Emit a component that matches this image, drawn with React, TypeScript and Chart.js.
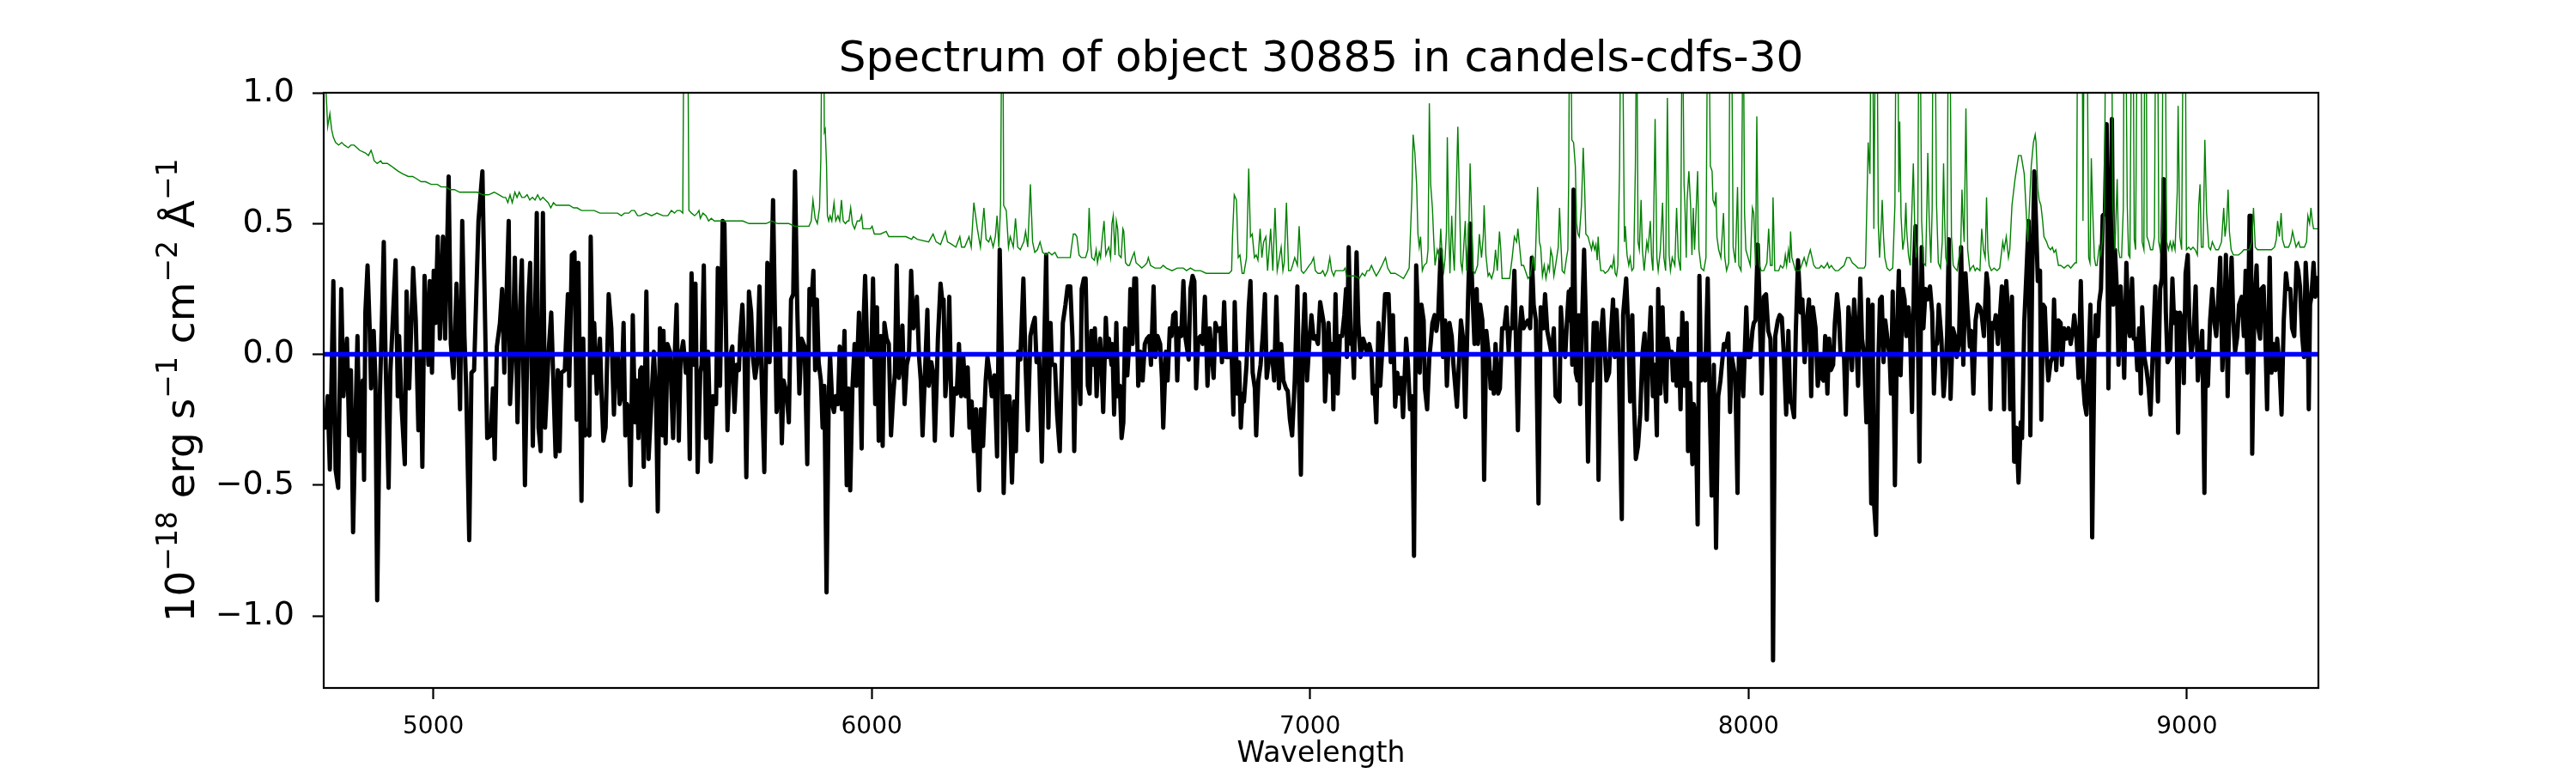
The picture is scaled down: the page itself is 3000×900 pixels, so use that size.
import React, { useEffect, useRef } from "react";
import { Chart, registerables } from "chart.js";

Chart.register(...registerables);

const TITLE = "Spectrum of object 30885 in candels-cdfs-30";
const X_LABEL = "Wavelength";
const Y_LABEL_PARTS: { t: string; sup: boolean }[] = [
  { t: "10", sup: false },
  { t: "\u221218", sup: true },
  { t: " erg s", sup: false },
  { t: "\u22121", sup: true },
  { t: " cm", sup: false },
  { t: "\u22122", sup: true },
  { t: " \u00c5", sup: false },
  { t: "\u22121", sup: true },
];

const X_MIN = 4750;
const X_MAX = 9300;
const Y_MIN = -1.275;
const Y_MAX = 1.0;
const X_TICKS = [5000, 6000, 7000, 8000, 9000];
const Y_TICKS = [-1.0, -0.5, 0.0, 0.5, 1.0];

const ZERO_LINE: [number, number][] = [[4750, 0], [9300, 0]];

// observed flux, [wavelength, value]
const FLUX: [number, number][] = [
  [4750,-0.25],[4754,-0.28],[4759,-0.16],[4764,-0.44],[4772,0.28],[4777,-0.44],[4783,-0.51],[4790,0.25],[4795,-0.16],[4803,0.06],
  [4808,-0.31],[4812,-0.06],[4817,-0.68],[4823,-0.21],[4827,0.07],[4832,-0.37],[4839,-0.10],[4842,-0.48],[4845,0.16],[4850,0.34],
  [4855,0.09],[4858,-0.13],[4864,0.09],[4868,-0.10],[4872,-0.94],[4878,-0.16],[4883,0.15],[4887,0.43],[4891,-0.01],[4898,-0.51],
  [4902,-0.07],[4914,0.36],[4919,-0.16],[4922,0.07],[4928,-0.21],[4935,-0.42],[4939,0.24],[4945,-0.13],[4954,0.33],[4960,0.13],
  [4966,-0.29],[4971,0.01],[4975,-0.43],[4980,0.30],[4989,-0.04],[4992,0.28],[4997,-0.07],[5001,0.32],[5005,0.12],[5010,0.45],
  [5015,0.06],[5022,0.45],[5027,0.06],[5035,0.68],[5040,0.04],[5046,-0.09],[5053,0.27],[5061,-0.21],[5066,0.51],[5071,0.07],
  [5075,-0.13],[5082,-0.71],[5087,-0.07],[5093,-0.06],[5103,0.51],[5112,0.70],[5116,0.32],[5123,-0.32],[5131,-0.31],[5136,-0.13],
  [5140,-0.40],[5145,0.03],[5152,0.12],[5157,0.25],[5162,-0.07],[5172,0.51],[5175,-0.19],[5181,0.01],[5186,0.37],[5192,-0.26],
  [5198,0.18],[5202,0.36],[5209,-0.50],[5216,0.18],[5221,0.35],[5227,-0.35],[5236,0.54],[5240,-0.28],[5245,-0.37],[5250,0.54],
  [5255,-0.28],[5263,0.01],[5269,0.16],[5279,-0.39],[5284,-0.06],[5288,-0.37],[5292,-0.07],[5300,-0.06],[5307,0.23],[5310,-0.12],
  [5316,0.38],[5322,0.39],
  [5327,-0.25],[5331,0.35],[5338,-0.56],[5342,0.06],[5346,-0.31],[5351,-0.29],[5356,-0.31],[5359,0.45],[5364,-0.07],[5367,0.12],
  [5373,-0.15],[5380,0.06],[5384,-0.16],[5388,-0.33],[5393,-0.28],[5400,0.23],[5406,0.10],[5412,-0.23],[5416,-0.01],[5421,0.00],
  [5425,-0.19],[5429,-0.16],[5434,0.12],[5438,-0.31],[5442,-0.19],[5446,-0.22],[5450,-0.50],[5455,0.15],[5460,-0.26],[5464,-0.10],
  [5468,-0.32],[5472,-0.06],[5475,-0.05],[5480,-0.43],[5486,0.24],[5491,-0.40],[5498,-0.16],[5503,0.01],[5508,-0.16],[5512,-0.60],
  [5517,0.10],[5523,-0.31],[5525,0.09],[5530,-0.34],[5534,0.04],[5540,0.01],[5547,-0.32],[5551,0.01],[5555,0.19],[5560,-0.33],
  [5564,-0.01],[5570,0.05],[5576,-0.07],[5581,-0.01],[5585,-0.40],[5589,0.31],[5594,-0.04],[5598,0.27],[5603,-0.45],[5609,-0.07],
  [5612,-0.04],[5617,0.34],[5622,-0.32],[5627,0.01],[5633,-0.41],[5638,-0.16],[5645,-0.19],[5649,0.33],[5654,-0.12],[5660,0.51],
  [5664,0.50],[5671,-0.29],[5677,-0.01],[5682,0.03],[5687,-0.22],[5692,-0.04],[5697,-0.06],[5700,0.07],[5705,0.19],[5710,-0.01],
  [5714,-0.47],[5720,0.24],[5725,0.16],[5729,-0.01],[5734,-0.09],[5739,-0.03],[5744,0.26],[5749,-0.09],[5755,-0.45],[5762,0.35],
  [5767,-0.03],[5775,0.59],[5783,-0.22],[5786,-0.16],[5790,0.10],[5795,-0.34],[5799,-0.10],[5806,-0.15],[5811,-0.26],[5816,0.21],
  [5821,0.23],[5825,0.70],[5830,0.19],[5835,-0.15],[5840,0.06],[5847,0.03],[5853,-0.42],[5858,0.25],[5862,0.19],[5867,0.32],
  [5871,-0.06],[5875,0.21],[5879,-0.03],[5884,-0.10],
  [5888,-0.28],[5892,-0.12],[5897,-0.91],[5902,-0.16],[5905,0.00],[5910,-0.19],[5914,-0.22],[5918,-0.16],[5923,-0.19],[5927,0.03],
  [5932,-0.21],[5938,0.09],[5943,-0.50],[5947,-0.13],[5951,-0.52],[5956,-0.13],[5961,0.04],[5965,-0.12],[5971,0.16],[5977,-0.36],
  [5980,0.06],[5985,0.30],[5990,0.01],[5995,0.01],[5999,-0.01],[6003,0.29],[6008,-0.19],[6012,0.18],[6016,-0.33],[6021,0.07],
  [6025,-0.35],[6029,0.12],[6034,0.06],[6039,0.04],[6044,-0.31],[6049,-0.16],[6053,-0.07],[6057,0.34],[6062,-0.09],[6067,-0.03],
  [6070,0.11],[6075,-0.19],[6080,-0.04],[6085,0.00],[6090,0.32],[6095,0.10],[6098,0.12],[6103,0.22],[6108,-0.01],[6112,-0.10],
  [6116,-0.31],[6121,-0.09],[6127,0.17],[6130,-0.12],[6136,-0.03],[6140,-0.07],[6144,-0.33],[6148,-0.12],[6151,0.06],[6157,0.27],
  [6162,0.19],[6164,0.21],[6168,-0.16],[6173,-0.04],[6177,0.22],[6183,-0.31],[6188,-0.13],[6194,-0.15],[6199,0.04],[6204,-0.16],
  [6209,-0.01],[6214,-0.16],[6219,-0.05],[6223,-0.28],[6228,-0.18],[6233,-0.37],[6238,-0.21],[6245,-0.52],[6249,-0.21],[6254,-0.35],
  [6260,-0.10],[6264,-0.01],[6269,-0.07],[6274,-0.16],[6280,-0.08],[6286,-0.39],[6292,0.40],[6297,-0.03],[6301,-0.53],[6307,-0.16],
  [6311,-0.25],[6314,-0.16],[6320,-0.49],[6325,-0.18],[6329,-0.37],[6334,0.01],[6339,-0.02],[6346,0.29],[6351,-0.04],[6356,-0.29],
  [6362,0.07],[6367,0.11],[6372,0.14],[6376,-0.03],[6382,-0.01],[6388,-0.41],[6393,-0.01],[6398,0.38],[6403,-0.28],[6408,0.12],
  [6411,-0.04],[6418,-0.04],[6423,-0.23],[6429,-0.37],[6436,0.12],[6442,0.19],[6447,0.26],
  [6453,0.26],[6458,0.06],[6462,-0.37],[6466,0.00],[6471,0.01],[6476,-0.19],[6479,0.25],[6484,0.29],[6488,0.29],[6493,-0.12],
  [6497,-0.15],[6501,0.09],[6506,-0.04],[6509,0.10],[6513,-0.16],[6517,-0.01],[6521,0.06],[6524,-0.03],[6528,-0.22],[6534,0.14],
  [6538,-0.01],[6541,0.06],[6547,-0.04],[6549,0.04],[6553,-0.23],[6558,0.12],[6562,-0.16],[6566,-0.12],[6570,-0.32],[6574,-0.26],
  [6578,0.10],[6583,-0.08],[6587,0.03],[6590,0.25],[6595,0.04],[6599,0.29],[6603,0.29],[6608,-0.12],[6613,0.01],[6618,-0.10],
  [6623,0.04],[6628,0.06],[6633,0.07],[6637,-0.04],[6643,0.26],[6647,-0.01],[6652,0.07],[6658,0.04],[6662,-0.09],[6665,-0.28],
  [6671,0.01],[6675,-0.10],[6680,0.10],[6684,0.07],[6688,0.15],[6693,0.16],[6697,-0.10],[6701,0.10],[6706,0.07],[6711,0.28],
  [6716,0.06],[6723,-0.02],[6727,0.25],[6732,0.30],[6736,0.28],[6740,-0.13],[6745,0.06],[6750,0.07],[6755,0.04],[6760,0.22],
  [6766,-0.12],[6771,0.10],[6776,-0.01],[6780,-0.09],[6784,0.12],[6789,0.09],[6795,0.10],[6799,-0.03],[6804,0.20],[6808,-0.01],
  [6817,-0.01],[6821,0.00],[6825,-0.23],[6828,0.20],[6834,-0.15],[6838,-0.03],[6842,-0.28],[6846,-0.15],[6849,-0.18],[6855,-0.04],
  [6860,0.18],[6864,0.28],[6869,-0.07],[6874,-0.13],[6877,-0.31],[6882,-0.10],[6887,-0.04],[6892,0.07],[6897,0.23],[6901,-0.09],
  [6907,-0.01],[6913,0.01],[6918,-0.10],[6923,0.22],[6929,-0.13],[6934,0.04],[6939,-0.10],[6945,-0.13],[6949,-0.14],[6954,-0.25],
  [6959,-0.31],[6965,-0.10],[6971,0.26],[6975,-0.15],[6979,-0.46],[6984,0.07],[6988,0.23],[6993,-0.10],[6998,0.04],[7003,0.15],
  [7008,0.06],[7012,0.07],[7018,0.04],[7023,0.20],
  [7031,0.12],[7034,-0.18],[7042,0.12],[7047,-0.07],[7050,0.04],[7053,-0.21],[7058,0.23],[7063,-0.15],[7068,0.07],[7073,0.07],
  [7078,0.15],[7082,0.25],[7084,-0.01],[7088,0.41],[7093,0.04],[7096,0.07],[7100,-0.09],[7106,0.39],[7110,0.12],[7115,-0.01],
  [7121,0.06],[7125,0.04],[7130,0.00],[7135,0.04],[7140,0.00],[7143,-0.15],[7147,-0.12],[7151,-0.26],[7156,0.12],[7160,-0.12],
  [7164,0.00],[7171,0.23],[7179,0.23],[7184,-0.03],[7189,0.15],[7194,-0.20],[7199,-0.07],[7204,-0.15],[7208,-0.09],[7212,-0.24],
  [7219,0.06],[7223,-0.03],[7228,-0.21],[7233,-0.16],[7237,-0.77],[7242,0.34],[7246,0.16],[7250,-0.07],[7254,0.19],[7259,0.13],
  [7262,-0.13],[7267,-0.21],[7272,-0.01],[7275,0.04],[7279,0.12],[7284,0.15],[7288,0.09],[7292,0.14],[7298,0.40],[7303,-0.01],
  [7308,0.13],[7312,-0.12],[7318,0.12],[7323,0.07],[7327,-0.04],[7335,-0.20],[7344,0.13],[7349,0.06],[7354,-0.24],[7360,0.19],
  [7365,0.50],[7370,0.25],[7375,0.04],[7380,0.25],[7383,0.04],[7388,0.19],[7393,0.13],[7397,-0.48],[7402,0.09],[7408,-0.01],
  [7412,-0.13],[7416,-0.07],[7419,-0.15],[7423,0.04],[7429,-0.15],[7433,-0.13],[7438,0.10],[7443,0.10],[7448,0.18],[7453,0.01],
  [7456,0.10],[7461,0.10],[7466,0.32],[7474,-0.29],[7479,0.10],[7482,0.18],[7487,0.10],[7493,0.12],[7497,0.13],[7502,0.10],
  [7506,0.37],[7510,0.19],[7515,0.13],[7521,-0.57],[7526,0.18],[7532,0.10],[7536,0.23],[7541,0.09],[7551,0.00],[7556,0.10],
  [7560,-0.16],[7569,-0.18],[7572,0.18],[7577,0.04],[7582,-0.01],[7586,0.13],[7590,0.24],
  [7592,0.13],[7595,0.25],[7598,-0.04],[7601,0.63],[7606,-0.07],[7610,-0.10],[7613,0.15],[7616,-0.19],[7621,0.16],[7625,0.40],
  [7629,0.13],[7634,-0.41],[7639,-0.01],[7643,-0.10],[7647,0.12],[7654,0.12],[7658,-0.48],[7663,0.06],[7668,0.17],[7673,-0.01],
  [7676,-0.10],[7682,-0.07],[7686,0.07],[7691,0.21],[7695,-0.01],[7699,0.17],[7704,-0.01],[7706,-0.22],[7711,-0.63],[7714,0.15],
  [7721,0.29],[7725,0.13],[7730,-0.18],[7735,0.15],[7739,-0.19],[7743,-0.40],[7748,-0.35],[7753,-0.23],[7758,0.00],[7763,0.08],
  [7768,-0.25],[7773,0.04],[7777,0.18],[7782,-0.16],[7786,-0.04],[7791,-0.31],[7794,0.25],[7799,-0.15],[7804,0.18],[7808,-0.06],
  [7812,-0.18],[7815,0.06],[7820,-0.01],[7825,0.01],[7828,-0.10],[7833,-0.01],[7836,-0.12],[7841,0.06],[7845,-0.21],[7849,0.16],
  [7854,-0.12],[7859,0.12],[7862,-0.37],[7867,-0.11],[7872,-0.42],[7875,-0.19],[7880,-0.25],[7884,-0.65],[7888,0.30],[7892,-0.10],
  [7897,0.00],[7901,-0.10],[7907,0.29],[7911,-0.13],[7916,-0.54],[7921,-0.04],[7926,-0.74],[7931,-0.16],[7936,-0.10],[7941,-0.01],
  [7944,0.04],[7949,0.03],[7954,0.08],[7958,-0.22],[7962,-0.01],[7970,-0.09],[7975,-0.53],[7978,-0.01],[7983,-0.01],[7988,-0.16],
  [7995,0.18],[7999,-0.01],[8004,-0.01],[8009,0.09],[8012,0.12],[8016,0.13],[8021,0.42],[8025,0.21],[8030,-0.15],[8035,0.22],
  [8040,0.23],[8045,0.09],[8050,0.06],[8053,-0.10],[8056,-1.17],[8061,0.07],[8067,0.13],[8071,0.15],[8076,0.14],[8081,-0.01],
  [8086,-0.23],[8091,0.09],[8095,-0.18],[8099,-0.19],[8104,-0.24],[8108,0.09],[8113,0.36],[8119,0.16],[8123,0.21],[8128,-0.03],
  [8133,0.13],[8138,0.21],[8143,-0.16],[8147,0.18],[8153,0.10],[8158,-0.12],
  [8164,-0.01],[8167,-0.09],[8171,-0.10],[8175,0.07],[8180,-0.15],[8184,0.06],[8188,-0.06],[8193,-0.04],[8197,0.12],[8202,0.23],
  [8206,0.16],[8210,0.00],[8215,0.00],[8218,-0.01],[8222,-0.23],[8228,0.18],[8232,0.10],[8236,-0.06],[8241,0.21],[8245,0.10],
  [8250,-0.12],[8255,0.29],[8259,0.06],[8264,-0.01],[8269,-0.26],[8273,0.21],[8277,-0.23],[8280,-0.57],[8283,0.19],[8286,-0.56],
  [8291,-0.69],[8296,-0.04],[8300,0.21],[8304,0.22],[8308,-0.03],[8312,0.13],[8317,0.06],[8322,-0.01],[8325,-0.15],[8329,0.24],
  [8334,-0.50],[8339,0.10],[8343,0.32],[8347,-0.08],[8352,0.25],[8356,0.21],[8360,0.07],[8365,0.18],[8368,0.12],[8373,-0.22],
  [8378,0.35],[8381,0.49],[8386,0.13],[8390,-0.41],[8395,0.41],[8399,0.10],[8404,0.25],[8408,0.21],[8414,0.26],[8419,0.16],
  [8423,-0.15],[8427,0.04],[8430,0.04],[8434,0.19],[8440,0.06],[8445,-0.16],[8449,-0.07],[8453,0.07],[8457,0.44],[8461,-0.17],
  [8466,0.10],[8471,0.07],[8475,-0.01],[8480,0.04],[8485,0.41],[8490,-0.04],[8495,0.31],[8500,0.16],[8505,0.03],[8508,0.09],
  [8513,-0.15],[8518,0.13],[8523,0.19],[8528,0.18],[8532,0.15],[8537,0.07],[8543,0.31],[8547,0.25],[8552,-0.21],[8556,0.12],
  [8560,0.10],[8564,0.15],[8569,0.04],[8573,0.13],[8578,0.26],[8583,-0.21],[8588,0.28],[8593,0.13],[8597,-0.21],[8601,0.22],
  [8606,-0.41],[8611,-0.28],[8616,-0.49],[8621,-0.26],[8624,-0.32],[8629,0.12],[8634,0.31],[8639,0.51],[8643,-0.31],[8647,0.28],
  [8652,0.70],[8656,0.50],[8660,0.28],[8665,0.32],[8668,-0.25],[8672,0.19],[8676,0.18],[8680,0.00],[8684,-0.10],[8689,-0.03],
  [8694,-0.01],[8697,0.21],[8702,-0.06],[8707,0.13],[8712,0.12],[8715,-0.04],[8720,0.10],[8725,0.06],
  [8730,0.10],[8735,0.04],[8740,0.09],[8743,0.15],[8748,0.07],[8753,-0.09],[8758,0.28],[8763,-0.10],[8767,-0.19],[8771,-0.23],
  [8776,-0.01],[8780,0.19],[8784,-0.70],[8789,-0.01],[8792,0.15],[8797,0.07],[8800,0.20],[8804,0.25],[8808,0.53],[8813,0.54],
  [8817,0.88],[8821,-0.13],[8825,0.40],[8829,0.90],[8832,0.19],[8836,0.40],[8841,0.22],[8844,-0.04],[8849,0.26],[8854,0.07],
  [8857,-0.09],[8862,0.35],[8867,0.10],[8870,0.07],[8875,0.29],[8879,0.06],[8883,0.06],[8887,-0.06],[8891,0.10],[8895,-0.15],
  [8898,0.18],[8903,-0.01],[8908,-0.06],[8913,-0.13],[8917,-0.23],[8922,0.00],[8928,0.26],[8930,0.07],[8934,-0.18],[8939,0.25],
  [8943,0.29],[8947,0.67],[8952,0.16],[8956,-0.03],[8962,-0.01],[8967,0.29],[8971,0.12],[8976,0.16],[8980,-0.30],[8984,0.16],
  [8989,0.13],[8993,-0.11],[8997,0.31],[9002,0.38],[9006,0.10],[9010,-0.01],[9015,0.07],[9020,0.26],[9025,-0.10],[9030,0.00],
  [9035,0.09],[9040,-0.53],[9043,0.01],[9048,-0.12],[9053,0.13],[9058,0.25],[9063,0.12],[9067,0.07],[9071,0.19],[9076,0.37],
  [9081,-0.06],[9086,0.16],[9089,0.38],[9093,-0.16],[9097,0.19],[9102,0.37],[9106,0.13],[9110,0.01],[9115,0.07],[9119,0.19],
  [9125,0.22],[9130,0.07],[9134,0.32],[9138,-0.07],[9143,0.53],[9146,0.53],[9149,-0.38],[9154,0.19],[9159,0.34],[9163,0.10],
  [9167,0.06],[9170,0.25],[9175,0.26],[9179,0.07],[9183,-0.21],[9189,0.37],[9193,-0.07],[9198,0.04],[9202,-0.06],[9206,0.06],
  [9211,-0.04],[9216,-0.23],[9221,0.13],[9226,0.31],[9230,0.25],[9236,0.25],[9240,0.10],[9245,0.07],[9250,0.35],[9254,0.32],
  [9258,0.26],[9263,0.07],[9267,-0.01],[9271,0.35],[9275,0.22],[9278,-0.21],[9281,0.19],[9284,0.22],[9289,0.35],[9293,0.22],
  [9298,0.30],
];

// noise / sky spectrum, [wavelength, value]; values above 1.0 run off the top of the axes
const NOISE: [number, number][] = [
  [4750,1.30],[4751,1.25],[4755,1.02],[4759,0.87],[4762,0.90],[4764,0.92],[4768,0.86],[4772,0.83],[4777,0.81],[4784,0.80],
  [4791,0.81],[4797,0.80],[4806,0.79],[4812,0.80],[4819,0.80],[4826,0.79],[4832,0.78],[4845,0.77],[4852,0.76],[4858,0.78],
  [4862,0.76],[4865,0.74],[4872,0.73],[4880,0.74],[4884,0.73],[4895,0.73],[4904,0.72],[4912,0.71],[4920,0.70],[4930,0.69],
  [4943,0.68],[4953,0.68],[4963,0.67],[4972,0.66],[4982,0.66],[4995,0.65],[5009,0.65],[5018,0.64],[5028,0.64],[5038,0.63],
  [5048,0.63],[5060,0.62],[5074,0.62],[5088,0.62],[5100,0.62],[5113,0.61],[5126,0.61],[5139,0.62],[5150,0.61],[5160,0.60],
  [5165,0.60],[5170,0.58],[5175,0.61],[5180,0.58],[5186,0.62],[5191,0.60],[5196,0.62],[5202,0.60],[5208,0.60],[5214,0.61],
  [5220,0.59],[5226,0.60],[5232,0.59],[5238,0.61],[5244,0.59],[5250,0.60],[5256,0.59],[5262,0.58],[5268,0.56],[5274,0.58],
  [5280,0.57],[5290,0.57],[5300,0.57],[5310,0.57],
  [5320,0.56],[5328,0.56],[5338,0.55],[5348,0.55],[5358,0.55],[5367,0.55],[5380,0.54],[5393,0.54],[5405,0.54],[5420,0.54],
  [5429,0.53],[5436,0.54],[5446,0.54],[5452,0.55],[5459,0.55],[5466,0.53],[5472,0.53],[5485,0.54],[5498,0.53],[5510,0.54],
  [5524,0.53],[5535,0.53],[5543,0.55],[5550,0.54],[5556,0.55],[5563,0.55],[5569,0.54],[5572,1.40],[5576,2.00],[5580,1.40],
  [5583,0.55],[5589,0.54],[5596,0.53],[5602,0.54],[5606,0.55],[5609,0.52],[5615,0.54],[5622,0.53],[5628,0.51],[5634,0.52],
  [5641,0.51],[5654,0.51],[5667,0.51],[5680,0.51],[5693,0.51],[5706,0.51],[5720,0.50],[5733,0.50],[5746,0.50],[5759,0.50],
  [5772,0.51],[5785,0.50],[5798,0.50],[5811,0.50],[5824,0.49],[5837,0.49],[5850,0.49],[5857,0.49],[5862,0.51],[5866,0.59],
  [5871,0.52],[5876,0.50],[5881,0.56],[5884,0.75],[5887,1.40],[5890,1.40],
  [5892,0.85],[5894,0.86],[5897,0.72],[5899,0.53],[5902,0.51],[5905,0.53],[5909,0.51],[5914,0.58],[5918,0.51],[5923,0.53],
  [5927,0.51],[5931,0.59],[5935,0.51],[5940,0.50],[5945,0.51],[5948,0.51],[5952,0.56],[5956,0.50],[5961,0.48],[5967,0.51],
  [5973,0.51],[5977,0.53],[5980,0.48],[5987,0.48],[5997,0.48],[6001,0.49],[6006,0.46],[6020,0.46],[6033,0.47],[6039,0.45],
  [6052,0.45],[6065,0.45],[6078,0.45],[6091,0.44],[6095,0.45],[6104,0.44],[6130,0.43],[6140,0.46],[6147,0.43],[6157,0.42],
  [6168,0.47],[6173,0.43],[6183,0.42],[6192,0.41],[6201,0.45],[6205,0.41],[6212,0.41],[6217,0.43],[6222,0.45],[6227,0.41],
  [6233,0.58],[6241,0.48],[6248,0.41],[6256,0.56],[6261,0.44],[6267,0.43],[6271,0.45],[6274,0.43],[6277,0.41],[6282,0.45],
  [6286,0.53],[6290,0.41],[6294,0.57],[6297,1.40],[6299,1.40],[6301,0.57],[6307,0.55],[6312,0.41],[6316,0.45],[6323,0.41],
  [6328,0.52],[6333,0.41],[6339,0.40],[6344,0.42],[6347,0.43],[6351,0.47],[6356,0.41],[6362,0.65],[6367,0.43],[6372,0.39],
  [6378,0.40],[6384,0.43],[6390,0.39],[6398,0.38],[6404,0.39],[6411,0.38],[6418,0.39],[6424,0.37],[6434,0.37],[6444,0.37],
  [6453,0.37],
  [6455,0.40],[6460,0.46],[6464,0.46],[6468,0.45],[6473,0.38],[6478,0.37],[6483,0.37],[6488,0.37],[6493,0.40],[6496,0.56],
  [6499,0.43],[6502,0.37],[6508,0.36],[6512,0.40],[6515,0.35],[6519,0.39],[6522,0.37],[6525,0.43],[6530,0.51],[6534,0.38],
  [6538,0.40],[6541,0.41],[6545,0.37],[6548,0.50],[6551,0.53],[6555,0.38],[6558,0.51],[6561,0.48],[6564,0.38],[6569,0.37],
  [6573,0.48],[6575,0.47],[6579,0.35],[6584,0.34],[6588,0.34],[6594,0.37],[6599,0.39],[6603,0.35],[6610,0.34],[6616,0.33],
  [6623,0.34],[6628,0.35],[6631,0.37],[6636,0.34],[6646,0.33],[6659,0.33],[6665,0.34],[6672,0.33],[6685,0.32],[6697,0.33],
  [6705,0.33],[6711,0.33],[6718,0.32],[6727,0.33],[6737,0.32],[6750,0.32],[6763,0.31],[6776,0.31],[6789,0.31],[6802,0.31],
  [6815,0.31],[6821,0.32],[6823,0.45],[6827,0.61],[6832,0.59],[6836,0.37],[6840,0.38],[6845,0.31],[6849,0.31],[6855,0.37],
  [6860,0.71],[6864,0.45],[6868,0.46],[6873,0.37],[6877,0.38],[6881,0.36],[6886,0.48],[6890,0.37],[6894,0.43],[6899,0.45],
  [6903,0.32],[6910,0.48],[6915,0.32],[6920,0.56],[6925,0.32],[6930,0.37],[6934,0.41],[6938,0.32],[6941,0.35],[6946,0.58],
  [6951,0.32],[6956,0.32],[6960,0.34],[6965,0.37],[6971,0.34],[6975,0.49],[6980,0.32],[6985,0.31],[6990,0.32],[6998,0.34],
  [7003,0.35],[7008,0.37],[7012,0.32],[7018,0.31],[7024,0.31],
  [7029,0.32],[7034,0.30],[7040,0.32],[7045,0.37],[7049,0.32],[7054,0.30],[7058,0.32],[7063,0.32],[7070,0.32],[7076,0.32],
  [7080,0.33],[7083,0.30],[7089,0.30],[7102,0.30],[7112,0.29],[7119,0.31],[7125,0.30],[7130,0.32],[7135,0.32],[7140,0.34],
  [7145,0.32],[7151,0.30],[7158,0.32],[7164,0.34],[7172,0.37],[7177,0.33],[7184,0.31],[7194,0.31],[7204,0.30],[7213,0.29],
  [7220,0.31],[7226,0.33],[7232,0.60],[7235,0.84],[7239,0.77],[7243,0.65],[7246,0.46],[7249,0.41],[7252,0.45],[7256,0.32],
  [7260,0.34],[7266,0.35],[7269,0.40],[7272,0.96],[7275,0.65],[7279,0.56],[7282,0.44],[7285,0.34],[7290,0.40],[7295,0.37],
  [7298,0.48],[7301,0.38],[7305,0.32],[7308,0.37],[7311,0.47],[7313,0.83],[7316,0.50],[7319,0.31],[7323,0.53],[7326,0.40],
  [7329,0.32],[7334,0.66],[7337,0.87],[7341,0.57],[7344,0.35],[7347,0.32],[7350,0.40],[7354,0.51],[7357,0.32],[7362,0.47],
  [7365,0.73],[7369,0.50],[7371,0.32],[7376,0.31],[7382,0.34],[7386,0.46],[7391,0.37],[7395,0.45],[7397,0.57],[7401,0.38],
  [7406,0.30],[7409,0.31],[7414,0.29],[7419,0.32],[7423,0.40],[7427,0.32],[7432,0.47],[7435,0.40],[7438,0.29],[7448,0.29],
  [7455,0.29],[7461,0.37],[7466,0.45],[7471,0.43],[7474,0.48],[7478,0.41],[7482,0.34],[7487,0.34],[7493,0.31],[7497,0.29],
  [7502,0.30],[7506,0.34],[7508,0.37],[7513,0.32],[7519,0.64],[7523,0.43],[7526,0.41],[7530,0.30],[7534,0.34],[7538,0.29],
  [7543,0.34],[7546,0.32],[7549,0.40],[7553,0.37],[7556,0.30],[7560,0.34],[7566,0.41],[7569,0.56],[7572,0.43],[7575,0.32],
  [7580,0.31],[7585,0.37],[7588,0.40],[7590,0.69],[7592,1.40],[7594,1.40],
  [7597,0.82],[7601,0.81],[7605,0.72],[7608,0.50],[7611,0.46],[7614,0.45],[7619,0.57],[7623,0.79],[7626,0.65],[7629,0.46],
  [7634,0.45],[7637,0.43],[7642,0.40],[7645,0.43],[7649,0.40],[7652,0.42],[7655,0.36],[7657,0.45],[7660,0.37],[7663,0.32],
  [7669,0.32],[7673,0.31],[7680,0.32],[7686,0.34],[7689,0.33],[7693,0.37],[7696,0.31],[7699,0.30],[7702,0.34],[7706,0.72],
  [7709,1.40],[7712,1.40],[7717,0.43],[7719,0.49],[7723,0.38],[7727,0.34],[7730,0.37],[7734,0.32],[7738,0.33],[7742,0.72],
  [7745,1.40],[7748,0.43],[7751,0.40],[7755,0.59],[7758,0.40],[7762,0.32],[7768,0.43],[7771,0.40],[7776,0.51],[7779,0.37],
  [7782,0.32],[7787,0.90],[7791,0.37],[7794,0.32],[7799,0.40],[7804,0.58],[7807,0.37],[7811,0.32],[7815,0.98],[7819,0.38],
  [7822,0.32],[7826,0.37],[7832,0.34],[7836,0.56],[7840,0.37],[7845,0.32],[7849,1.40],[7853,0.65],[7855,0.57],[7858,0.37],
  [7860,0.59],[7864,0.70],[7868,0.57],[7871,0.38],[7874,0.56],[7877,0.40],[7881,0.57],[7884,0.70],[7887,0.40],[7892,0.33],
  [7898,0.32],[7903,0.37],[7907,1.40],[7909,1.40],[7913,0.72],[7917,0.70],[7919,0.59],[7923,0.57],[7926,0.62],[7928,0.45],
  [7932,0.40],[7937,0.37],[7943,0.54],[7946,0.37],[7950,0.32],[7955,0.35],[7958,1.40],[7961,1.40],[7965,0.41],[7970,0.35],
  [7975,0.64],[7978,0.34],[7983,0.32],[7988,1.40],[7991,0.54],[7994,0.40],[7999,0.37],[8004,0.34],[8009,0.56],[8012,0.54],
  [8016,0.34],[8019,0.91],[8022,0.40],[8025,0.34],[8029,0.32],[8035,0.32],[8042,0.35],[8046,0.48],[8050,0.34],[8054,0.34],
  [8056,0.60],[8060,0.32],[8065,0.32],[8069,0.32],[8073,0.34],[8078,0.33],[8081,0.34],[8084,0.38],[8087,0.34],[8091,0.40],
  [8094,0.35],[8096,0.47],[8099,0.37],[8104,0.34],[8107,0.32],[8117,0.32],[8121,0.34],[8127,0.37],[8132,0.34],[8136,0.37],
  [8141,0.40],[8145,0.37],[8149,0.34],[8154,0.33],[8162,0.33],
  [8166,0.34],[8172,0.33],[8177,0.34],[8180,0.35],[8184,0.33],[8189,0.34],[8193,0.33],[8198,0.32],[8205,0.32],[8211,0.33],
  [8218,0.34],[8224,0.37],[8231,0.37],[8237,0.35],[8244,0.34],[8250,0.33],[8257,0.33],[8264,0.33],[8267,0.34],[8270,0.57],
  [8273,0.81],[8277,0.69],[8280,1.40],[8283,1.40],[8286,0.48],[8290,1.40],[8293,1.40],[8296,0.50],[8299,0.37],[8303,0.50],
  [8305,0.59],[8308,0.45],[8311,0.37],[8316,0.33],[8322,0.32],[8329,0.33],[8334,0.57],[8337,1.40],[8340,1.40],[8343,0.62],
  [8345,0.89],[8348,0.53],[8352,0.40],[8356,0.45],[8359,0.58],[8361,0.47],[8365,0.38],[8369,0.34],[8372,0.51],[8376,0.73],
  [8380,0.43],[8382,0.37],[8386,0.43],[8389,1.40],[8391,1.40],[8395,0.51],[8399,0.35],[8404,0.34],[8407,0.57],[8409,0.77],
  [8412,0.53],[8416,0.35],[8419,0.56],[8421,1.40],[8425,1.40],[8429,0.57],[8433,0.35],[8438,0.33],[8442,0.43],[8445,0.73],
  [8447,0.54],[8450,0.37],[8453,0.35],[8456,1.40],[8459,1.40],[8463,0.45],[8467,0.34],[8471,0.33],[8476,0.32],[8480,0.37],
  [8484,0.40],[8487,0.63],[8489,0.53],[8492,0.43],[8496,0.94],[8500,0.40],[8505,0.32],[8508,0.33],[8513,0.34],[8517,0.32],
  [8521,0.33],[8528,0.32],[8532,0.48],[8536,0.40],[8540,0.37],[8543,0.60],[8546,0.40],[8549,0.34],[8554,0.32],[8560,0.33],
  [8567,0.32],[8573,0.33],[8580,0.43],[8583,0.40],[8588,0.45],[8593,0.37],[8596,0.40],[8601,0.57],[8608,0.67],[8616,0.76],
  [8622,0.76],[8629,0.69],[8634,0.53],[8637,0.43],[8641,0.57],[8645,0.72],[8650,0.81],[8654,0.84],[8656,0.81],[8660,0.63],
  [8663,0.59],[8667,0.57],[8671,0.51],[8674,0.45],[8680,0.43],[8684,0.41],[8689,0.40],[8693,0.41],[8697,0.39],[8701,0.40],
  [8704,0.37],[8707,0.34],[8712,0.34],[8720,0.33],[8727,0.34],
  [8730,0.34],[8735,0.33],[8740,0.34],[8745,0.35],[8748,0.35],[8751,1.40],[8754,1.40],[8758,1.40],[8761,1.40],[8763,0.51],
  [8766,1.40],[8769,1.40],[8772,1.40],[8776,0.37],[8779,0.35],[8782,0.75],[8785,0.56],[8789,0.37],[8792,0.34],[8795,0.34],
  [8800,0.41],[8804,0.38],[8808,0.45],[8812,0.57],[8815,1.40],[8818,1.40],[8821,1.40],[8825,1.40],[8828,1.40],[8831,0.57],
  [8836,0.40],[8841,0.67],[8844,0.40],[8847,0.37],[8851,0.37],[8855,0.56],[8857,1.40],[8860,1.40],[8864,0.57],[8867,0.38],
  [8870,0.37],[8874,1.40],[8877,1.40],[8880,0.44],[8883,0.40],[8887,1.40],[8890,1.40],[8895,1.40],[8898,0.43],[8902,0.40],
  [8904,1.40],[8907,1.40],[8909,0.45],[8913,0.43],[8917,0.40],[8922,0.40],[8926,0.45],[8929,1.40],[8933,1.40],[8936,0.43],
  [8939,0.40],[8943,0.47],[8946,1.40],[8950,1.40],[8954,0.43],[8958,0.40],[8962,0.43],[8966,0.40],[8969,0.43],[8973,0.40],
  [8978,0.62],[8980,0.95],[8984,0.45],[8988,0.40],[8992,1.40],[8996,1.40],[8999,0.40],[9004,0.41],[9009,0.40],[9014,0.41],
  [9019,0.40],[9024,0.38],[9027,0.57],[9030,0.65],[9033,0.41],[9037,0.41],[9041,0.82],[9045,0.54],[9050,0.41],[9054,0.40],
  [9058,0.43],[9063,0.41],[9066,0.40],[9072,0.40],[9079,0.43],[9084,0.56],[9087,0.45],[9091,0.51],[9094,0.63],[9097,0.47],
  [9101,0.40],[9106,0.38],[9112,0.38],[9118,0.38],[9125,0.39],[9130,0.40],[9136,0.40],[9143,0.40],[9148,0.43],[9152,0.56],
  [9156,0.41],[9161,0.40],[9167,0.40],[9174,0.40],[9180,0.40],[9187,0.40],[9193,0.40],[9200,0.41],[9204,0.44],[9207,0.51],
  [9211,0.45],[9215,0.54],[9218,0.44],[9223,0.41],[9228,0.41],[9232,0.41],[9237,0.43],[9241,0.47],[9245,0.44],[9249,0.41],
  [9252,0.42],[9255,0.43],[9258,0.41],[9263,0.41],[9268,0.41],[9273,0.43],[9276,0.53],[9280,0.50],[9283,0.56],[9286,0.51],
  [9289,0.48],[9293,0.48],[9298,0.48],
];

const FONT = "'DejaVu Sans', sans-serif";

function fmtY(v: number): string {
  const s = Math.abs(v).toFixed(1);
  return v < -1e-9 ? "\u2212" + s : s;
}

export default function App() {
  const ref = useRef<HTMLCanvasElement | null>(null);

  useEffect(() => {
    document.body.style.margin = "0";
    const canvas = ref.current;
    if (!canvas) return;
    const ctx = canvas.getContext("2d");
    if (!ctx) return;

    const decor = {
      id: "decor",
      afterDraw(chart: any) {
        const c = chart.ctx as CanvasRenderingContext2D;
        const a = chart.chartArea;
        c.save();
        // frame
        c.strokeStyle = "#000";
        c.lineWidth = 2.2;
        c.strokeRect(a.left, a.top, a.right - a.left, a.bottom - a.top);
        c.fillStyle = "#000";
        const cx = (a.left + a.right) / 2;
        // title
        c.font = `50px ${FONT}`;
        c.textAlign = "center";
        c.textBaseline = "alphabetic";
        c.fillText(TITLE, cx, 83);
        // x label
        c.font = `33px ${FONT}`;
        c.fillText(X_LABEL, cx, 887);
        // y label, rotated
        const main = 47;
        const sub = main * 0.7;
        let total = 0;
        for (const p of Y_LABEL_PARTS) {
          c.font = `${p.sup ? sub : main}px ${FONT}`;
          total += c.measureText(p.t).width;
        }
        c.translate(226, (a.top + a.bottom) / 2);
        c.rotate(-Math.PI / 2);
        c.textAlign = "left";
        let x = -total / 2;
        for (const p of Y_LABEL_PARTS) {
          c.font = `${p.sup ? sub : main}px ${FONT}`;
          c.fillText(p.t, x, p.sup ? -main * 0.42 : 0);
          x += c.measureText(p.t).width;
        }
        c.restore();
      },
    };

    const chart = new Chart(ctx, {
      type: "line",
      data: {
        datasets: [
          {
            label: "zero",
            data: ZERO_LINE.map(([x, y]) => ({ x, y })),
            borderColor: "#0000ff",
            borderWidth: 5.5,
            pointRadius: 0,
            tension: 0,
            clip: 0,
          },
          {
            label: "noise",
            data: NOISE.map(([x, y]) => ({ x, y })),
            borderColor: "#008000",
            borderWidth: 1.4,
            pointRadius: 0,
            tension: 0,
            clip: 0,
          },
          {
            label: "flux",
            data: FLUX.map(([x, y]) => ({ x, y })),
            borderColor: "#000000",
            borderWidth: 5,
            borderJoinStyle: "round",
            pointRadius: 0,
            tension: 0,
            clip: 0,
          },
        ],
      },
      options: {
        animation: false,
        responsive: false,
        parsing: false,
        layout: { padding: { left: 0, top: 108, right: 300, bottom: 0 } },
        plugins: {
          legend: { display: false },
          tooltip: { enabled: false },
          title: { display: false },
        },
        scales: {
          x: {
            type: "linear",
            min: X_MIN,
            max: X_MAX,
            afterBuildTicks: (s: any) => {
              s.ticks = X_TICKS.map((v) => ({ value: v }));
            },
            afterFit: (s: any) => {
              s.height = 99;
            },
            ticks: {
              autoSkip: false,
              maxRotation: 0,
              minRotation: 0,
              includeBounds: false,
              color: "#000",
              font: { family: FONT, size: 28 },
              padding: 16,
              callback: (v: any) => String(v),
            },
            grid: {
              drawOnChartArea: false,
              drawTicks: true,
              tickLength: 13,
              tickWidth: 2.2,
              tickColor: "#000",
            },
            border: { display: false },
          },
          y: {
            type: "linear",
            min: Y_MIN,
            max: Y_MAX,
            afterBuildTicks: (s: any) => {
              s.ticks = Y_TICKS.map((v) => ({ value: v }));
            },
            afterFit: (s: any) => {
              s.width = 377;
            },
            ticks: {
              autoSkip: false,
              includeBounds: false,
              color: "#000",
              font: { family: FONT, size: 38 },
              padding: 21,
              callback: (v: any) => fmtY(Number(v)),
            },
            grid: {
              drawOnChartArea: false,
              drawTicks: true,
              tickLength: 13,
              tickWidth: 2.2,
              tickColor: "#000",
            },
            border: { display: false },
          },
        },
      },
      plugins: [decor],
    } as any);

    return () => chart.destroy();
  }, []);

  return (
    <div style={{ position: "absolute", left: 0, top: 0, width: 3000, height: 900, background: "#fff" }}>
      <canvas ref={ref} width={3000} height={900} style={{ display: "block", width: 3000, height: 900 }} />
    </div>
  );
}
